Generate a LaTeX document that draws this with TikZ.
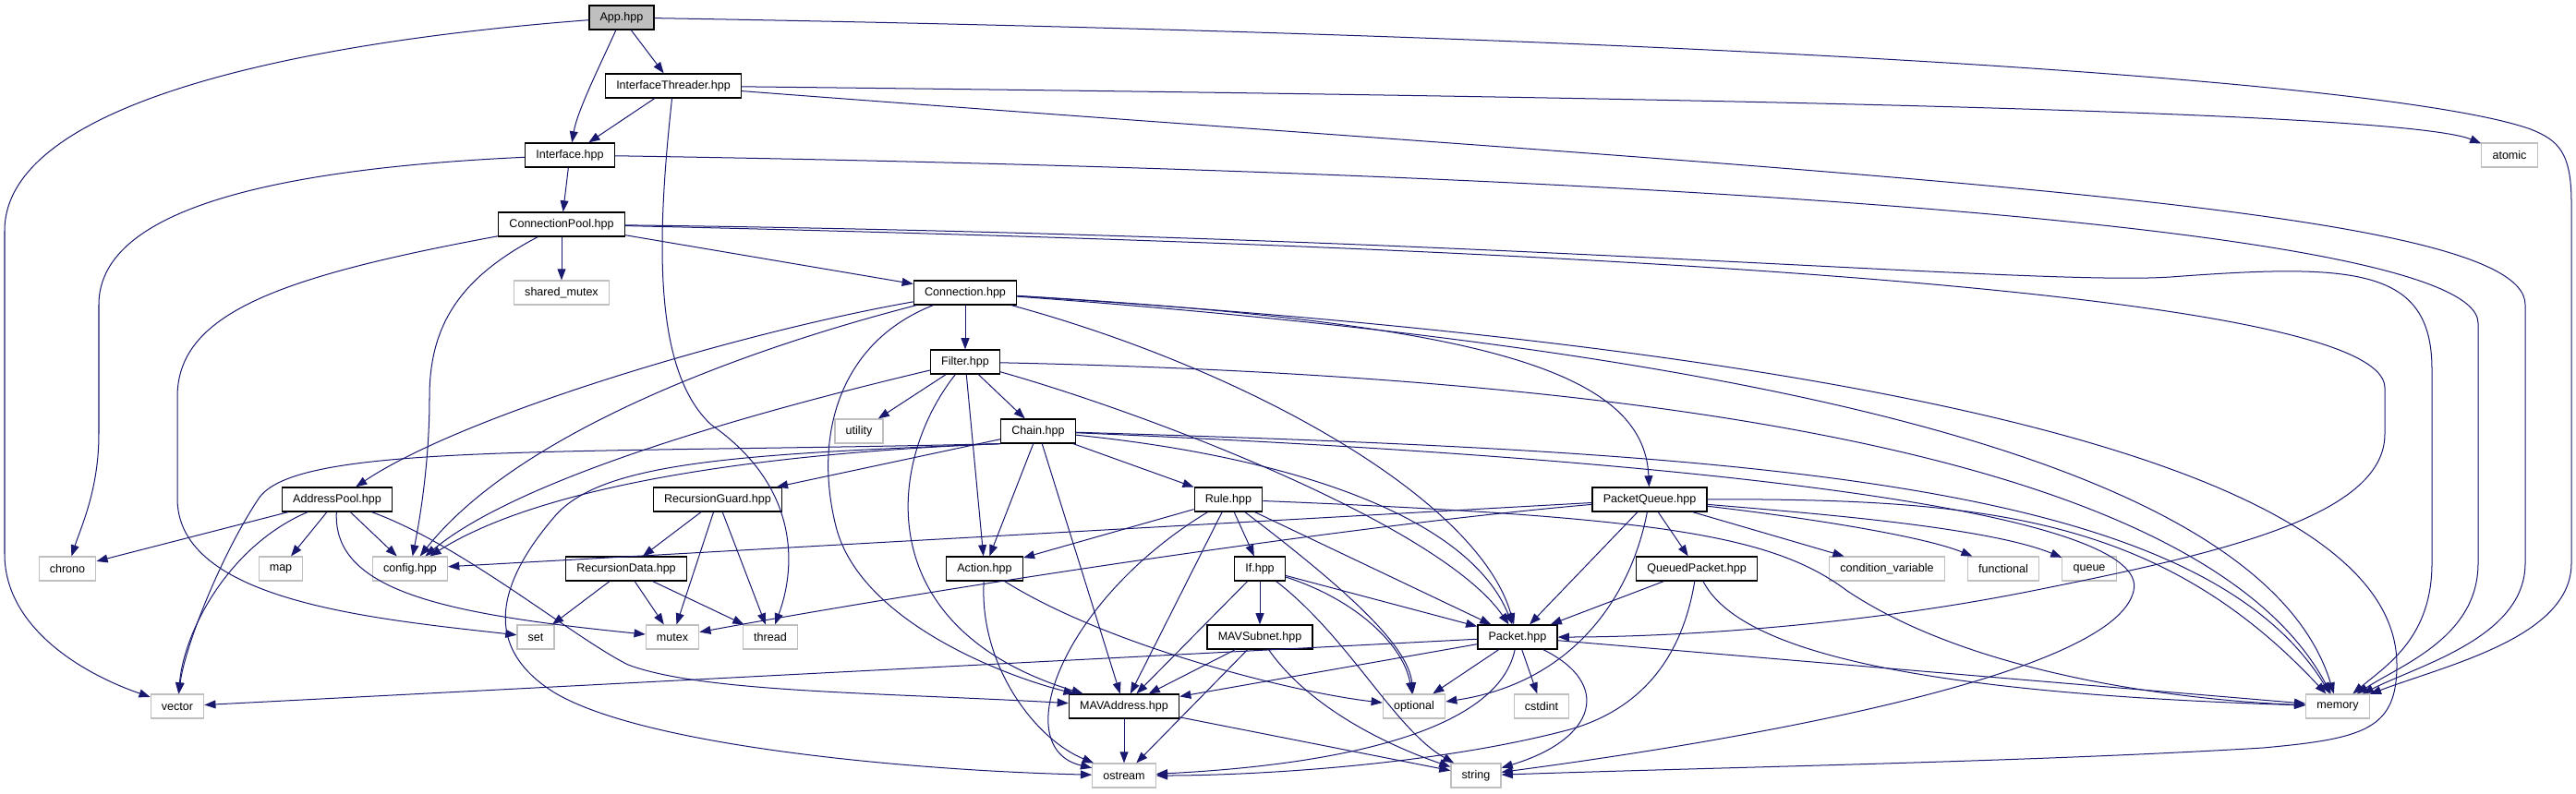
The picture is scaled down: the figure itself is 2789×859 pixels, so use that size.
\documentclass[tikz,border=0pt]{standalone}
\usepackage{fontspec}
\setmainfont{Liberation Sans}
\usetikzlibrary{arrows.meta}
\definecolor{edgeblue}{HTML}{191970}
\definecolor{boxgrey}{HTML}{BFBFBF}

\begin{document}
\begin{tikzpicture}[x=0.028cm, y=-0.028cm, >={Triangle[length=0.34cm, width=0.25cm]},
  every node/.style={rectangle, minimum height=0.728cm, inner xsep=9.3pt,
    inner ysep=0pt, font=\fontsize{10}{12}\selectfont},
  hdr/.style={draw=black, line width=1pt, fill=white},
  sys/.style={draw=boxgrey, line width=0.9pt, fill=white},
  dep/.style={->, draw=edgeblue, line width=0.8pt}]
  \useasboundingbox (0,0) rectangle (2789,859);

  % project headers
  \node[hdr, fill=boxgrey] (app) at (673,19) {App.hpp};
  \node[hdr] (ithr)    at (729,93)   {InterfaceThreader.hpp};
  \node[hdr] (iface)   at (617,168)  {Interface.hpp};
  \node[hdr] (cpool)   at (608,243)  {ConnectionPool.hpp};
  \node[hdr] (conn)    at (1045,317) {Connection.hpp};
  \node[hdr] (filt)    at (1045,392) {Filter.hpp};
  \node[hdr] (chain)   at (1124,467) {Chain.hpp};
  \node[hdr] (apool)   at (365,541)  {AddressPool.hpp};
  \node[hdr] (rguard)  at (777,541)  {RecursionGuard.hpp};
  \node[hdr] (rule)    at (1330,541) {Rule.hpp};
  \node[hdr] (pq)      at (1786,541) {PacketQueue.hpp};
  \node[hdr] (rdata)   at (678,616)  {RecursionData.hpp};
  \node[hdr] (act)     at (1066,616) {Action.hpp};
  \node[hdr] (ifh)     at (1364,616) {If.hpp};
  \node[hdr] (qp)      at (1837,616) {QueuedPacket.hpp};
  \node[hdr] (subnet)  at (1364,690) {MAVSubnet.hpp};
  \node[hdr] (pkt)     at (1643,690) {Packet.hpp};
  \node[hdr] (mavaddr) at (1217,765) {MAVAddress.hpp};

  % system headers
  \foreach \n/\x/\y in {atomic/2717/168, utility/930/467, chrono/73/616,
      map/304/616, functional/2169/616, queue/2262/616, set/580/690,
      mutex/728/690, thread/834/690, vector/192/765, optional/1531/765,
      cstdint/1669/765, memory/2531/765, ostream/1217/840, string/1598/840}
    \node[sys] (\n) at (\x,\y) {\n};
  \node[sys] (smutex)  at (608,317)  {shared\_mutex};
  \node[sys] (cfg)     at (444,616)  {config.hpp};
  \node[sys] (condvar) at (2043,616) {condition\_variable};

  % straight includes
  \foreach \a/\b in {app/ithr, ithr/iface, iface/cpool, cpool/smutex,
      cpool/conn, conn/filt, filt/utility, filt/chain, filt/act,
      chain/rguard, chain/act, chain/mavaddr, chain/rule, rguard/rdata,
      rguard/mutex, rguard/thread, rdata/set, rdata/mutex, rdata/thread,
      apool/chrono, apool/map, apool/cfg, rule/act, rule/ifh, rule/mavaddr,
      rule/pkt, pq/cfg, pq/pkt, pq/qp, pq/condvar, ifh/subnet, ifh/mavaddr,
      ifh/pkt, subnet/mavaddr, subnet/ostream, pkt/vector, pkt/mavaddr,
      pkt/optional, pkt/cstdint, pkt/memory, qp/pkt, mavaddr/ostream,
      mavaddr/string}
    \draw[dep] (\a)--(\b);

  % App, InterfaceThreader, Interface
  \draw[dep] (app) .. controls (650,70) and (625,120) .. (iface);
  \draw[dep] (app) .. controls (330,45) and (5,110) .. (5,250) -- (5,600)
    .. controls (5,680) and (90,730) .. (vector);
  \draw[dep] (app) .. controls (1900,40) and (2600,90) .. (2740,140)
    .. controls (2770,152) and (2784,165) .. (2784,220) -- (2784,610)
    .. controls (2784,690) and (2650,720) .. (memory);
  \draw[dep] (ithr) .. controls (1800,105) and (2600,120) .. (atomic);
  \draw[dep] (ithr) .. controls (2000,190) and (2734,220) .. (2734,330) -- (2734,610)
    .. controls (2734,690) and (2620,720) .. (memory);
  \draw[dep] (ithr) .. controls (712,250) and (705,400) .. (770,460)
    .. controls (870,530) and (860,620) .. (thread);
  \draw[dep] (iface) .. controls (250,185) and (107,240) .. (107,330) -- (107,470)
    .. controls (107,530) and (88,570) .. (chrono);
  \draw[dep] (iface) .. controls (1700,185) and (2683,240) .. (2683,350) -- (2683,610)
    .. controls (2683,690) and (2600,720) .. (memory);

  % ConnectionPool
  \draw[dep] (cpool) .. controls (500,300) and (465,350) .. (465,430)
    .. controls (465,500) and (455,560) .. (cfg);
  \draw[dep] (cpool) .. controls (300,300) and (192,340) .. (192,430) -- (192,540)
    .. controls (192,650) and (400,670) .. (set);
  \draw[dep] (cpool) .. controls (1600,255) and (2200,310) .. (2350,300)
    .. controls (2550,285) and (2633,290) .. (2633,400) -- (2633,610)
    .. controls (2633,690) and (2585,720) .. (memory);
  \draw[dep] (cpool) .. controls (1800,270) and (2582,320) .. (2582,420) -- (2582,470)
    .. controls (2582,560) and (2400,600) .. (2200,640)
    .. controls (2000,680) and (1800,690) .. (pkt);

  % Connection
  \draw[dep] (conn) .. controls (800,360) and (500,450) .. (apool);
  \draw[dep] (conn) .. controls (800,380) and (560,470) .. (cfg);
  \draw[dep] (conn) .. controls (910,370) and (880,470) .. (905,570)
    .. controls (930,670) and (1080,730) .. (mavaddr);
  \draw[dep] (conn) .. controls (1350,400) and (1600,540) .. (pkt);
  \draw[dep] (conn) .. controls (1600,350) and (1780,400) .. (pq);
  \draw[dep] (conn) .. controls (1900,380) and (2450,500) .. (memory);
  \draw[dep] (conn) .. controls (2200,390) and (2595,540) .. (2595,720)
    .. controls (2595,790) and (2560,800) .. (2450,810)
    .. controls (2200,825) and (1900,830) .. (string);

  % Filter
  \draw[dep] (filt) .. controls (800,450) and (560,520) .. (cfg);
  \draw[dep] (filt) .. controls (960,500) and (940,680) .. (mavaddr);
  \draw[dep] (filt) .. controls (1250,450) and (1560,570) .. (pkt);
  \draw[dep] (filt) .. controls (1900,410) and (2400,520) .. (memory);

  % Chain
  \draw[dep] (chain.south west) .. controls (800,492) and (580,530) .. (cfg);
  \draw[dep] (chain.south west) .. controls (600,492) and (320,480) .. (280,540)
    .. controls (240,600) and (200,700) .. (vector);
  \draw[dep] (chain.south west) .. controls (800,492) and (650,500) .. (600,560)
    .. controls (540,630) and (520,700) .. (600,750)
    .. controls (700,810) and (1000,835) .. (ostream);
  \draw[dep] (chain) .. controls (1400,495) and (1590,560) .. (pkt);
  \draw[dep] (chain) .. controls (1900,490) and (2380,520) .. (memory);
  \draw[dep] (chain) .. controls (1900,500) and (2330,560) .. (2310,640)
    .. controls (2290,730) and (1900,800) .. (string);

  % AddressPool
  \draw[dep] (apool) .. controls (250,590) and (200,680) .. (vector);
  \draw[dep] (apool) .. controls (360,640) and (480,665) .. (mutex);
  \draw[dep] (apool) .. controls (500,590) and (620,690) .. (680,720)
    .. controls (760,750) and (950,750) .. (mavaddr);

  % Rule
  \draw[dep] (rule) .. controls (1150,650) and (1090,810) .. (ostream);
  \draw[dep] (rule) .. controls (1460,640) and (1525,700) .. (optional);
  \draw[dep] (rule) .. controls (1800,560) and (1920,580) .. (2000,640)
    .. controls (2150,740) and (2400,760) .. (memory);

  % PacketQueue
  \draw[dep] (pq) .. controls (1450,570) and (1000,640) .. (mutex);
  \draw[dep] (pq) .. controls (1765,650) and (1700,740) .. (optional);
  \draw[dep] (pq) .. controls (1950,560) and (2080,580) .. (functional);
  \draw[dep] (pq) .. controls (1950,555) and (2150,570) .. (queue);
  \draw[dep] (pq) .. controls (2150,540) and (2340,560) .. (memory);

  % lower levels
  \draw[dep] (act) .. controls (1060,720) and (1120,800) .. (ostream);
  \draw[dep] (act) .. controls (1200,700) and (1400,750) .. (optional);
  \draw[dep] (ifh) .. controls (1470,650) and (1520,700) .. (optional);
  \draw[dep] (ifh) .. controls (1460,690) and (1510,790) .. (string);
  \draw[dep] (subnet) .. controls (1420,770) and (1510,810) .. (string);
  \draw[dep] (pkt) .. controls (1620,800) and (1420,830) .. (ostream);
  \draw[dep] (pkt) .. controls (1745,740) and (1730,800) .. (string);
  \draw[dep] (qp) .. controls (1820,720) and (1770,770) .. (1700,790)
    .. controls (1550,830) and (1350,840) .. (ostream);
  \draw[dep] (qp) .. controls (1880,700) and (2050,750) .. (memory);
\end{tikzpicture}
\end{document}
